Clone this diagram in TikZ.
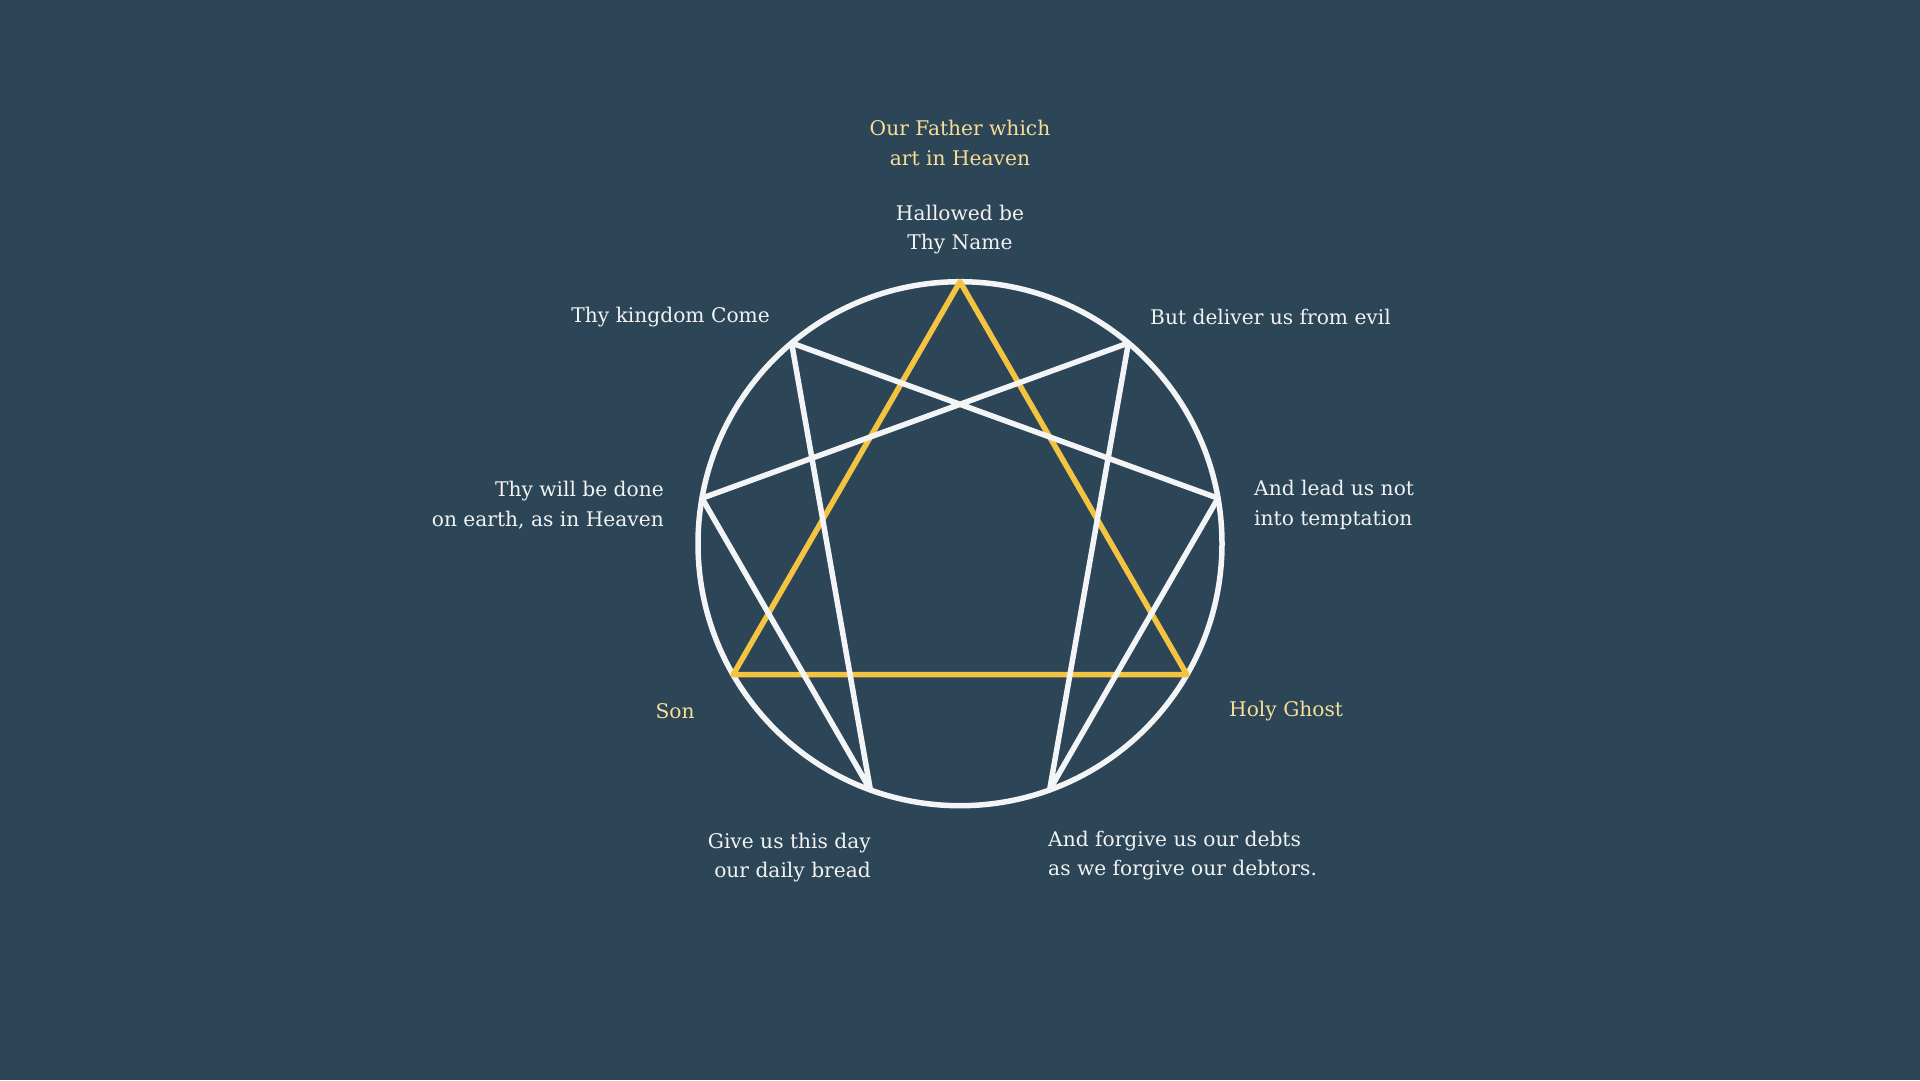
\documentclass[tikz,border=0pt]{standalone}
\usepackage{fontspec}
\setmainfont{DejaVu Serif}
\usetikzlibrary{calc}
\definecolor{bg}{HTML}{2C4557}
\definecolor{wline}{HTML}{F3F4F6}
\definecolor{yline}{HTML}{F5C342}
\definecolor{ytext}{HTML}{F7DE97}
\definecolor{wtext}{HTML}{F2F2F2}
\begin{document}
\begin{tikzpicture}[x=1pt,y=-1pt,
  wl/.style={draw=wline,line width=5.5pt,line join=round,line cap=round},
  yl/.style={draw=yline,line width=5.5pt,line join=round,line cap=round},
  lab/.style={text=wtext,font=\fontsize{20.2}{29.4}\selectfont,inner sep=0pt},
  ylab/.style={lab,text=ytext}]
\fill[bg] (0,0) rectangle (1920,1080);
\useasboundingbox (0,0) rectangle (1920,1080);
\coordinate (c) at (960,543.7);
\foreach \k in {0,...,8}{
  \coordinate (p\k) at ($(c)+({262*cos(90-40*\k)},{-262*sin(90-40*\k)})$);
}
\draw[wl] (c) circle (262);
\draw[yl] (p0) -- (p3) -- (p6) -- cycle;
\draw[wl] (p1) -- (p4) -- (p2) -- (p8) -- (p5) -- (p7) -- cycle;
\node[ylab,align=center] (t0) at (960,143) {Our Father which\\art in Heaven};
\node[lab,align=center] (t9) at (960,229.5) {Hallowed be\\Thy Name};
\node[lab,anchor=west] (t1) at (1150,316.8) {But deliver us from evil};
\node[lab,anchor=east] (t8) at (770,317) {Thy kingdom Come};
\node[lab,anchor=west,align=left] (t2) at (1254,505) {And lead us not\\into temptation};
\node[lab,anchor=east,align=right] (t7) at (664,505) {Thy will be done\\on earth, as in Heaven};
\node[ylab] (t6) at (675,711) {Son};
\node[ylab,anchor=west] (t3) at (1229,711.5) {Holy Ghost};
\node[lab,anchor=east,align=right] (t5) at (871,857.5) {Give us this day\\our daily bread};
\node[lab,anchor=west,align=left] (t4) at (1048,855.5) {And forgive us our debts\\as we forgive our debtors.};
\end{tikzpicture}
\end{document}
